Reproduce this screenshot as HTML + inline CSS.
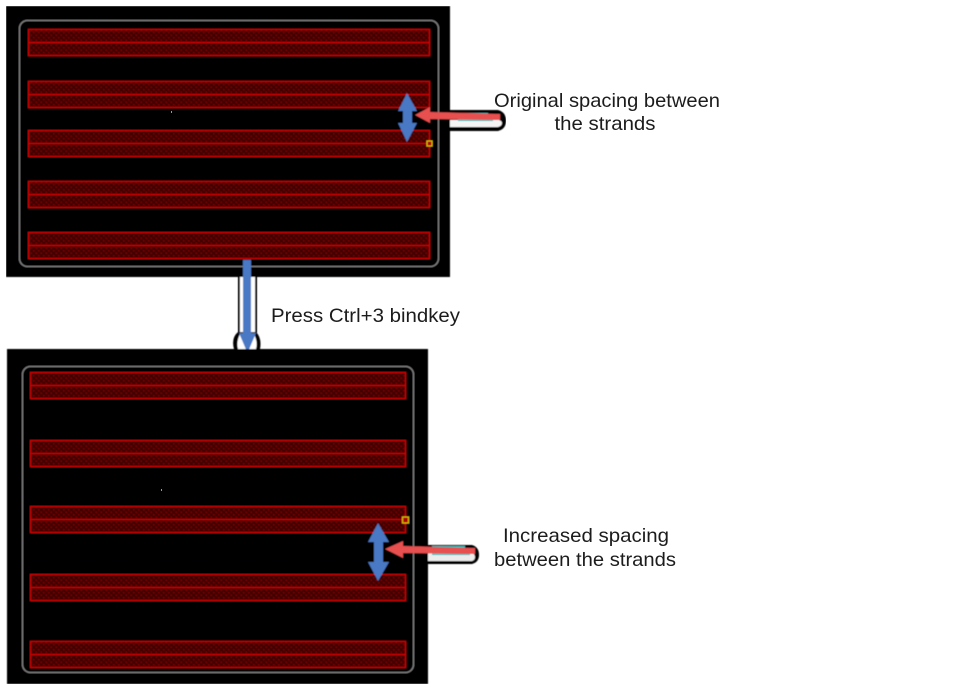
<!DOCTYPE html>
<html>
<head>
<meta charset="utf-8">
<style>
html,body{margin:0;padding:0;background:#fff;}
svg{display:block;}
text{font-family:"Liberation Sans",sans-serif;font-size:19.500px;fill:#1c1c1c;}
</style>
</head>
<body>
<svg width="960" height="691" viewBox="0 0 960 691" xmlns="http://www.w3.org/2000/svg">
<defs>
<filter id="b" x="0" y="0" width="100%" height="100%"><feGaussianBlur stdDeviation="0.4"/></filter>
<pattern id="d" width="5" height="5" patternUnits="userSpaceOnUse">
<rect width="5" height="5" fill="#3c0000"/>
<circle cx="1.250" cy="1.250" r="1" fill="#7c0000"/>
<circle cx="3.750" cy="3.750" r="1" fill="#7c0000"/>
</pattern>
<g id="s1">
<rect x="28.500" y="0.500" width="401" height="26" fill="url(#d)" stroke="#d80000" stroke-width="1.200"/>
<line x1="28" x2="430" y1="13.500" y2="13.500" stroke="#d80000" stroke-width="1.200"/>
</g>
<g id="s2">
<rect x="30.500" y="0.500" width="375" height="26" fill="url(#d)" stroke="#d80000" stroke-width="1.200"/>
<line x1="30" x2="406" y1="13.500" y2="13.500" stroke="#d80000" stroke-width="1.200"/>
</g>
</defs>
<rect width="960" height="691" fill="#fff"/>
<g filter="url(#b)">
<!-- Top panel -->
<rect x="6" y="6" width="444" height="271" fill="#000"/>
<rect x="19.500" y="20.500" width="419" height="246" rx="8" fill="none" stroke="#868686" stroke-width="1.300"/>
<use href="#s1" y="29"/>
<use href="#s1" y="81"/>
<use href="#s1" y="130"/>
<use href="#s1" y="181"/>
<use href="#s1" y="232"/>
<rect x="427" y="141" width="5" height="5" fill="#a00" stroke="#d8c000" stroke-width="1.200"/>

<!-- Top callout -->
<path d="M450 110H498Q506 112 506 121Q506 129 498 131H450Z" fill="#000"/>
<path d="M450 120H499Q502 121 502 123Q502 126 498 127H450Z" fill="#f4f4f4"/>
<rect x="458" y="113" width="30" height="2" fill="#40b8b8"/>
<rect x="458" y="119" width="35" height="2" fill="#40b8b8"/>
<path d="M415 115L430 107V112L500 114V120L430 119V123Z" fill="#e8504f"/>
<path d="M407 93L417 111H412V123H417L407 142L398 123H403V111H398Z" fill="#4a78c4"/>

<!-- Connector between panels -->
<rect x="238" y="277" width="19" height="60" fill="#000"/>
<rect x="240" y="277" width="15" height="60" fill="#fff"/>
<path d="M238 332Q231 338 234 349H260Q262 338 256 332Z" fill="#000"/>
<path d="M240 334Q236 342 238 349H256Q258 342 254 334Z" fill="#fff"/>
<rect x="243" y="260" width="8" height="74" fill="#4a78c4"/>
<path d="M239 333H256L247.500 353Z" fill="#4a78c4"/>

<!-- Bottom panel -->
<rect x="7" y="349" width="421" height="335" fill="#000"/>
<rect x="22.500" y="366.500" width="391" height="306" rx="8" fill="none" stroke="#868686" stroke-width="1.300"/>
<use href="#s2" y="372"/>
<use href="#s2" y="440"/>
<use href="#s2" y="506"/>
<use href="#s2" y="574"/>
<use href="#s2" y="641"/>
<rect x="402.500" y="517" width="6" height="6" fill="#a00" stroke="#d8c000" stroke-width="1.200"/>

<!-- Bottom callout -->
<path d="M428 545H472Q479 547 479 555Q479 562 472 564H428Z" fill="#000"/>
<path d="M428 553H472Q475 554 475 557Q475 560 472 561H428Z" fill="#ececec"/>
<rect x="432" y="546" width="33" height="2" fill="#40b8b8"/>
<rect x="432" y="553" width="38" height="2" fill="#40b8b8"/>
<path d="M385 549L403 541V546L475 548V554L403 553V558Z" fill="#e8504f"/>
<path d="M378 523L389 542H383V562H389L378 581L368 562H374V542H368Z" fill="#4a78c4"/>
</g>
<!-- Labels -->
<text x="607" y="107" text-anchor="middle" textLength="226" lengthAdjust="spacingAndGlyphs">Original spacing between</text>
<text x="605" y="130" text-anchor="middle" textLength="101" lengthAdjust="spacingAndGlyphs">the strands</text>
<text x="271" y="322" textLength="189" lengthAdjust="spacingAndGlyphs">Press Ctrl+3 bindkey</text>
<text x="586" y="542" text-anchor="middle" textLength="166" lengthAdjust="spacingAndGlyphs">Increased spacing</text>
<text x="585" y="566" text-anchor="middle" textLength="182" lengthAdjust="spacingAndGlyphs">between the strands</text>
<rect x="171" y="111" width="1" height="2" fill="#999"/>
<rect x="161" y="489" width="1" height="2" fill="#999"/>
</svg>
</body>
</html>
